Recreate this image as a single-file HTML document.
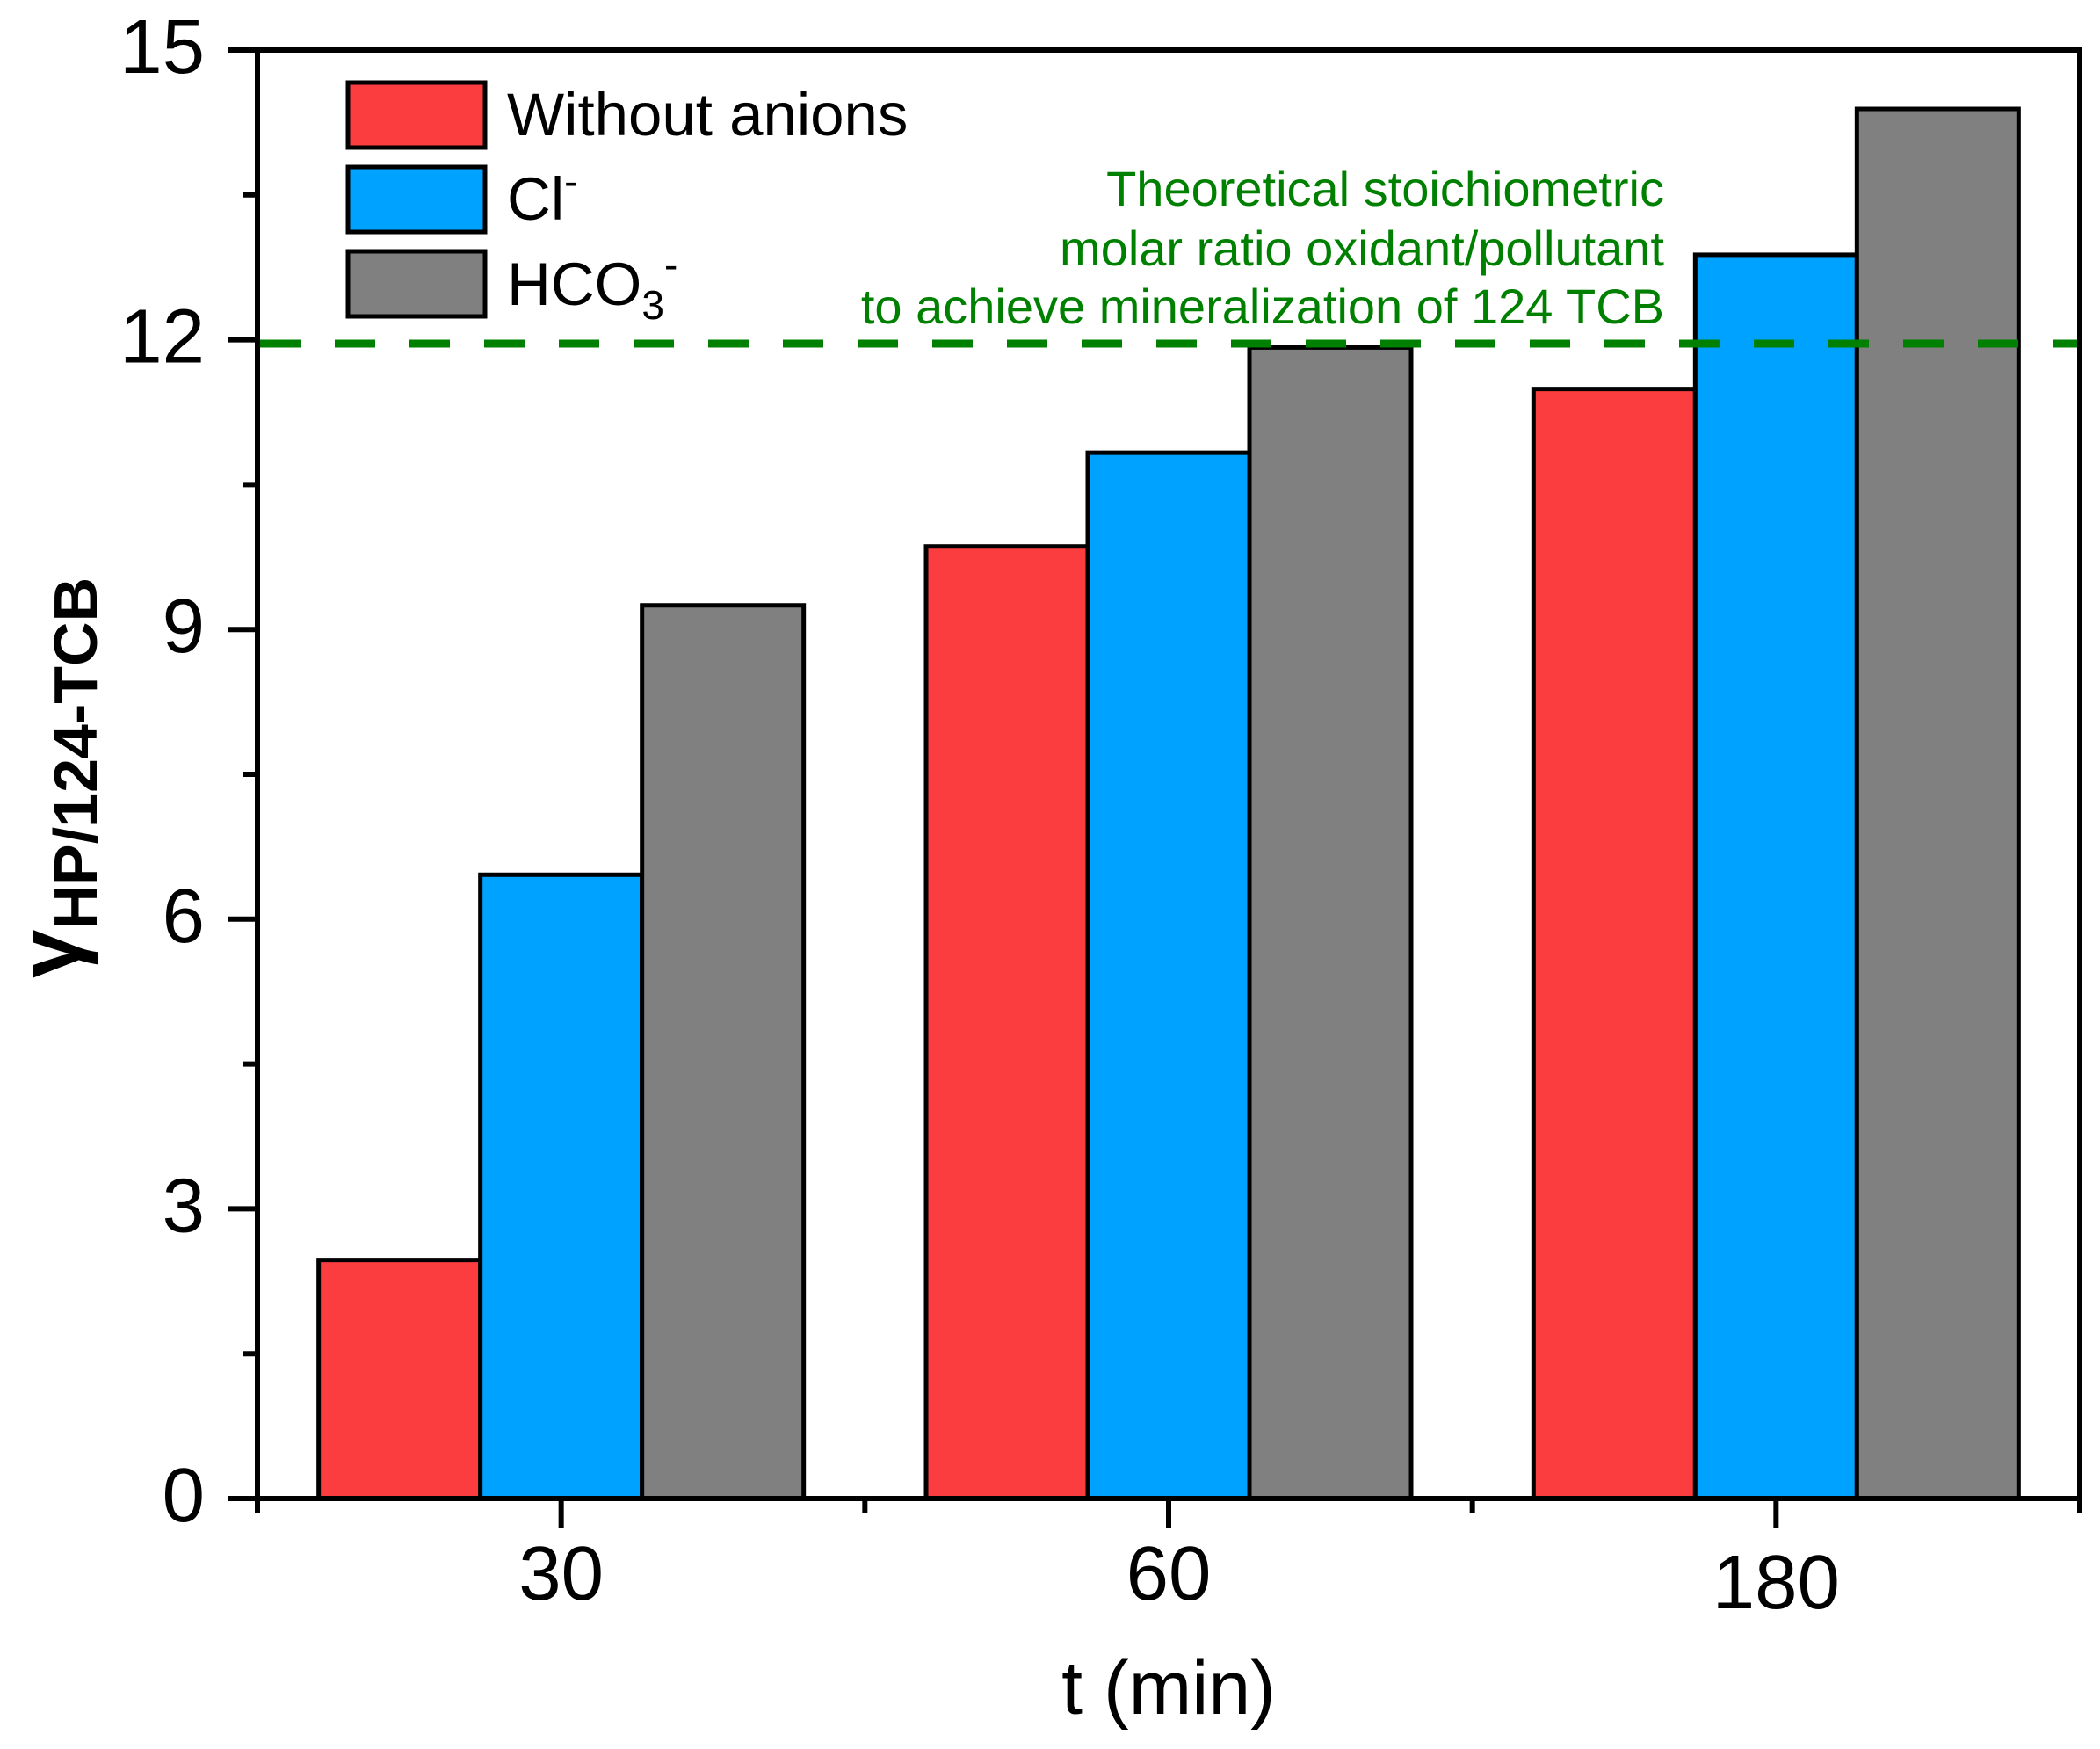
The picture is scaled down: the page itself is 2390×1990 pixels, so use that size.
<!DOCTYPE html>
<html><head><meta charset="utf-8"><style>html,body{margin:0;padding:0;background:#fff}svg{display:block}</style></head>
<body>
<svg id="chart" xmlns="http://www.w3.org/2000/svg" width="2390" height="1990" viewBox="0 0 2390 1990" font-family="'Liberation Sans', Arial, sans-serif">
<g id="bars"></g>
<g id="axes"></g>
<g>
  <rect x="396" y="94" width="156" height="74" fill="#fc3d3f" stroke="#000" stroke-width="5"/>
  <rect x="396" y="190" width="156" height="74" fill="#00a2ff" stroke="#000" stroke-width="5"/>
  <rect x="396" y="286" width="156" height="74" fill="#808080" stroke="#000" stroke-width="5"/>
  <text x="577" y="154" font-size="69">Without anions</text>
  <text x="577" y="250" font-size="69">Cl<tspan dy="-28" font-size="46">-</tspan></text>
  <text x="577" y="347" font-size="69">HCO<tspan dy="16" font-size="46">3</tspan><tspan dy="-46" font-size="46">-</tspan></text>
</g>
<g fill="#008000" font-size="56" text-anchor="end">
  <text x="1894" y="234">Theoretical stoichiometric</text>
  <text x="1894" y="302">molar ratio oxidant/pollutant</text>
  <text x="1894" y="368">to achieve mineralization of 124 TCB</text>
</g>
<text x="1330" y="1950" font-size="86" text-anchor="middle">t (min)</text>
<text transform="translate(90,885) rotate(-90)" text-anchor="middle" font-weight="bold"><tspan font-size="100">γ</tspan><tspan font-size="70" dy="20">HP/124-TCB</tspan></text>
</svg>
<script>
const categories = ["30", "60", "180"];
const seriesNames = ["Without anions", "Cl-", "HCO3-"];
const withoutAnions = [2.47, 9.86, 11.49];
const chloride = [6.46, 10.83, 12.88];
const bicarbonate = [9.25, 11.92, 14.39];
const yTicks = [0, 3, 6, 9, 12, 15];
const thresholdValue = 11.96;

const NS = "http://www.w3.org/2000/svg";
const X0 = 293, X1 = 2367, Y0 = 1705, Y1 = 57, YMAX = 15;
const groupW = (X1 - X0) / categories.length;
function xCenter(i) { return X0 + groupW * (i + 0.5); }
function yScale(v) { return Y0 - (v / YMAX) * (Y0 - Y1); }
function mk(tag, attrs, parent) {
  const e = document.createElementNS(NS, tag);
  for (const k in attrs) e.setAttribute(k, attrs[k]);
  parent.appendChild(e);
  return e;
}
const bars = document.getElementById("bars");
const axes = document.getElementById("axes");
const colors = ["#fc3d3f", "#00a2ff", "#808080"];
const series = [withoutAnions, chloride, bicarbonate];
const barW = 184;
series.forEach((vals, s) => {
  vals.forEach((v, i) => {
    const x = xCenter(i) - 1.5 * barW + s * barW;
    const r = mk("rect", {x: x, y: yScale(v), width: barW, height: Y0 - yScale(v), fill: colors[s], stroke: "#000", "stroke-width": 5}, bars);
    
    
  });
});
const th = mk("line", {x1: X0 + 3, x2: X1, y1: yScale(thresholdValue), y2: yScale(thresholdValue), stroke: "#008000", "stroke-width": 9, "stroke-dasharray": "46 39"}, bars);


const fr = mk("rect", {x: X0, y: Y1, width: X1 - X0, height: Y0 - Y1, fill: "none", stroke: "#000", "stroke-width": 6}, axes);


yTicks.forEach((t, i) => {
  const y = yScale(t);
  const tk = mk("line", {x1: X0 - 34, x2: X0, y1: y, y2: y, stroke: "#000", "stroke-width": 6}, axes);
  
  
  const lb = mk("text", {x: 233, y: y + 26, "font-size": 87, "text-anchor": "end"}, axes);
  lb.textContent = String(t);
  
  
  if (i < yTicks.length - 1) {
    const ym = yScale((t + yTicks[i + 1]) / 2);
    const mt = mk("line", {x1: X0 - 17, x2: X0, y1: ym, y2: ym, stroke: "#000", "stroke-width": 6}, axes);
    
    
  }
});
categories.forEach((c, i) => {
  const x = xCenter(i);
  const tk = mk("line", {x1: x, x2: x, y1: Y0, y2: Y0 + 33, stroke: "#000", "stroke-width": 6}, axes);
  
  
  const lb = mk("text", {x: x, y: i === 2 ? 1830 : 1820, "font-size": 87, "text-anchor": "middle"}, axes);
  lb.textContent = c;
  
  
});
for (let i = 0; i <= categories.length; i++) {
  const x = X0 + groupW * i;
  const mt = mk("line", {x1: x, x2: x, y1: Y0, y2: Y0 + 17, stroke: "#000", "stroke-width": 6}, axes);
  
  
}
</script>
</body></html>
